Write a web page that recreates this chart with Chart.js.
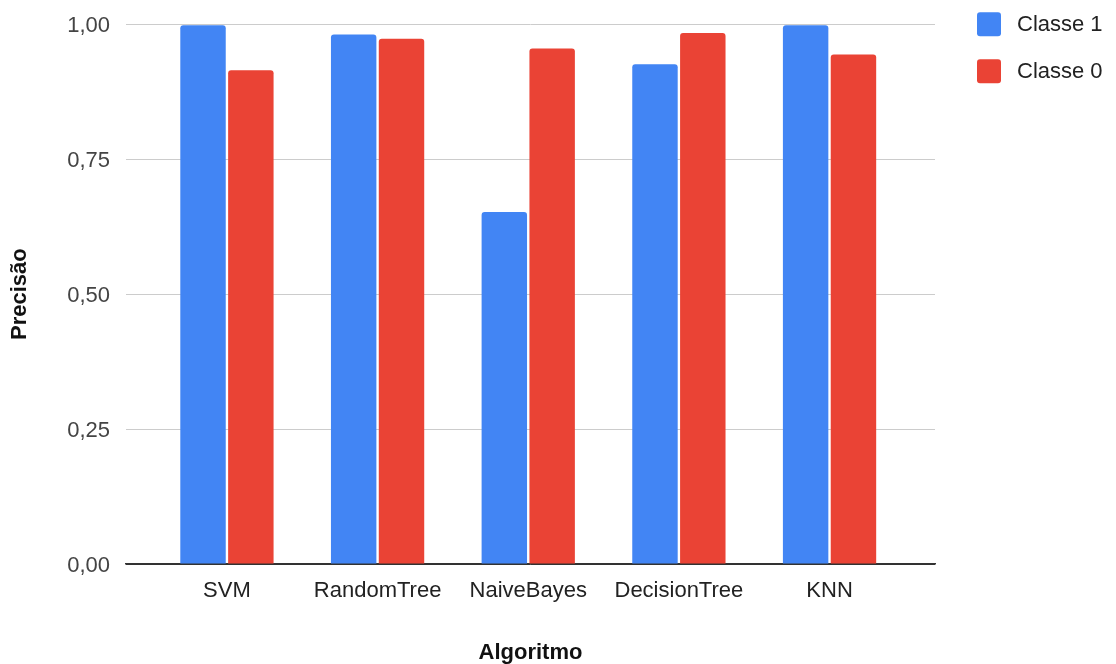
<!DOCTYPE html>
<html>
<head>
<meta charset="utf-8">
<script src="https://cdn.jsdelivr.net/npm/chart.js@4"></script>
<style>
  html, body { margin:0; padding:0; background:#fff; }
  #wrap { width:1116px; height:664px; }
</style>
</head>
<body>
<div id="wrap"><canvas id="chart" width="1116" height="664"></canvas></div>
<script>
// ---------------- DATA ----------------
const algoritmos = ["SVM", "RandomTree", "NaiveBayes", "DecisionTree", "KNN"];
const classe1 = [0.998, 0.981, 0.652, 0.926, 0.998];
const classe0 = [0.915, 0.973, 0.955, 0.984, 0.944];
const yTicks = ["0,00", "0,25", "0,50", "0,75", "1,00"];
const seriesNames = ["Classe 1", "Classe 0"];
const seriesColors = ["#4285F4", "#EA4335"];

const FONT = "'Liberation Sans', Arial, sans-serif";

// ---------------- LEGEND (google-charts style, top right) ----------------
const sideLegend = {
  id: "sideLegend",
  afterDraw(chart){
    const c = chart.ctx, a = chart.chartArea;
    c.save();
    c.font = "22px " + FONT;
    c.textBaseline = "middle";
    chart.data.datasets.forEach((ds, i) => {
      const x = a.right + 42, y = a.top - 12 + i * 47;
      c.fillStyle = ds.backgroundColor;
      c.beginPath();
      c.roundRect(x, y, 24, 24, 3);
      c.fill();
      c.fillStyle = "#222";
      c.fillText(ds.label, x + 40, y + 13);
    });
    c.restore();
  }
};

// ---------------- CHART ----------------
const ctx = document.getElementById("chart").getContext("2d");
new Chart(ctx, {
  type: "bar",
  data: {
    datasets: [
      { label: seriesNames[0], data: classe1.map((v, i) => ({ x: i, y: v })), backgroundColor: seriesColors[0], borderRadius: 3, borderSkipped: "bottom" },
      { label: seriesNames[1], data: classe0.map((v, i) => ({ x: i, y: v })), backgroundColor: seriesColors[1], borderRadius: 3, borderSkipped: "bottom" }
    ]
  },
  options: {
    responsive: false,
    animation: false,
    layout: { padding: { top: 0, right: 181, bottom: 0, left: 6 } },
    datasets: { bar: { categoryPercentage: 0.635, barPercentage: 0.95 } },
    plugins: {
      tooltip: { enabled: false },
      legend: { display: false }
    },
    scales: {
      x: {
        type: "linear",
        offset: false,
        min: -0.67,
        max: 4.7,
        afterBuildTicks: s => { s.ticks = algoritmos.map((_, i) => ({ value: i })); },
        grid: { display: false },
        border: { display: true, color: "#333", width: 1.5 },
        ticks: {
          color: "#222",
          font: { family: FONT, size: 22 },
          padding: 6,
          autoSkip: false,
          maxRotation: 0,
          callback: v => algoritmos[v]
        },
        afterFit: s => { s.height = 100; },
        title: { display: true, text: "Algoritmo", color: "#111", font: { family: FONT, size: 22, weight: "bold" }, padding: { top: 0, bottom: -2 } }
      },
      y: {
        min: 0, max: 1,
        ticks: {
          stepSize: 0.25,
          color: "#444",
          font: { family: FONT, size: 22, lineHeight: 0.75 },
          padding: 16,
          labelOffset: 2,
          callback: (v, i) => yTicks[i]
        },
        grid: {
          drawTicks: false,
          color: c => c.tick.value === 0 ? "#333" : "#ccc",
          lineWidth: 1
        },
        border: { display: false },
        afterFit: s => { s.width = 120; },
        title: { display: true, text: "Precisão", color: "#111", font: { family: FONT, size: 22, weight: "bold" }, padding: { top: 1, bottom: 0 } }
      }
    }
  },
  plugins: [sideLegend]
});
</script>
</body>
</html>
